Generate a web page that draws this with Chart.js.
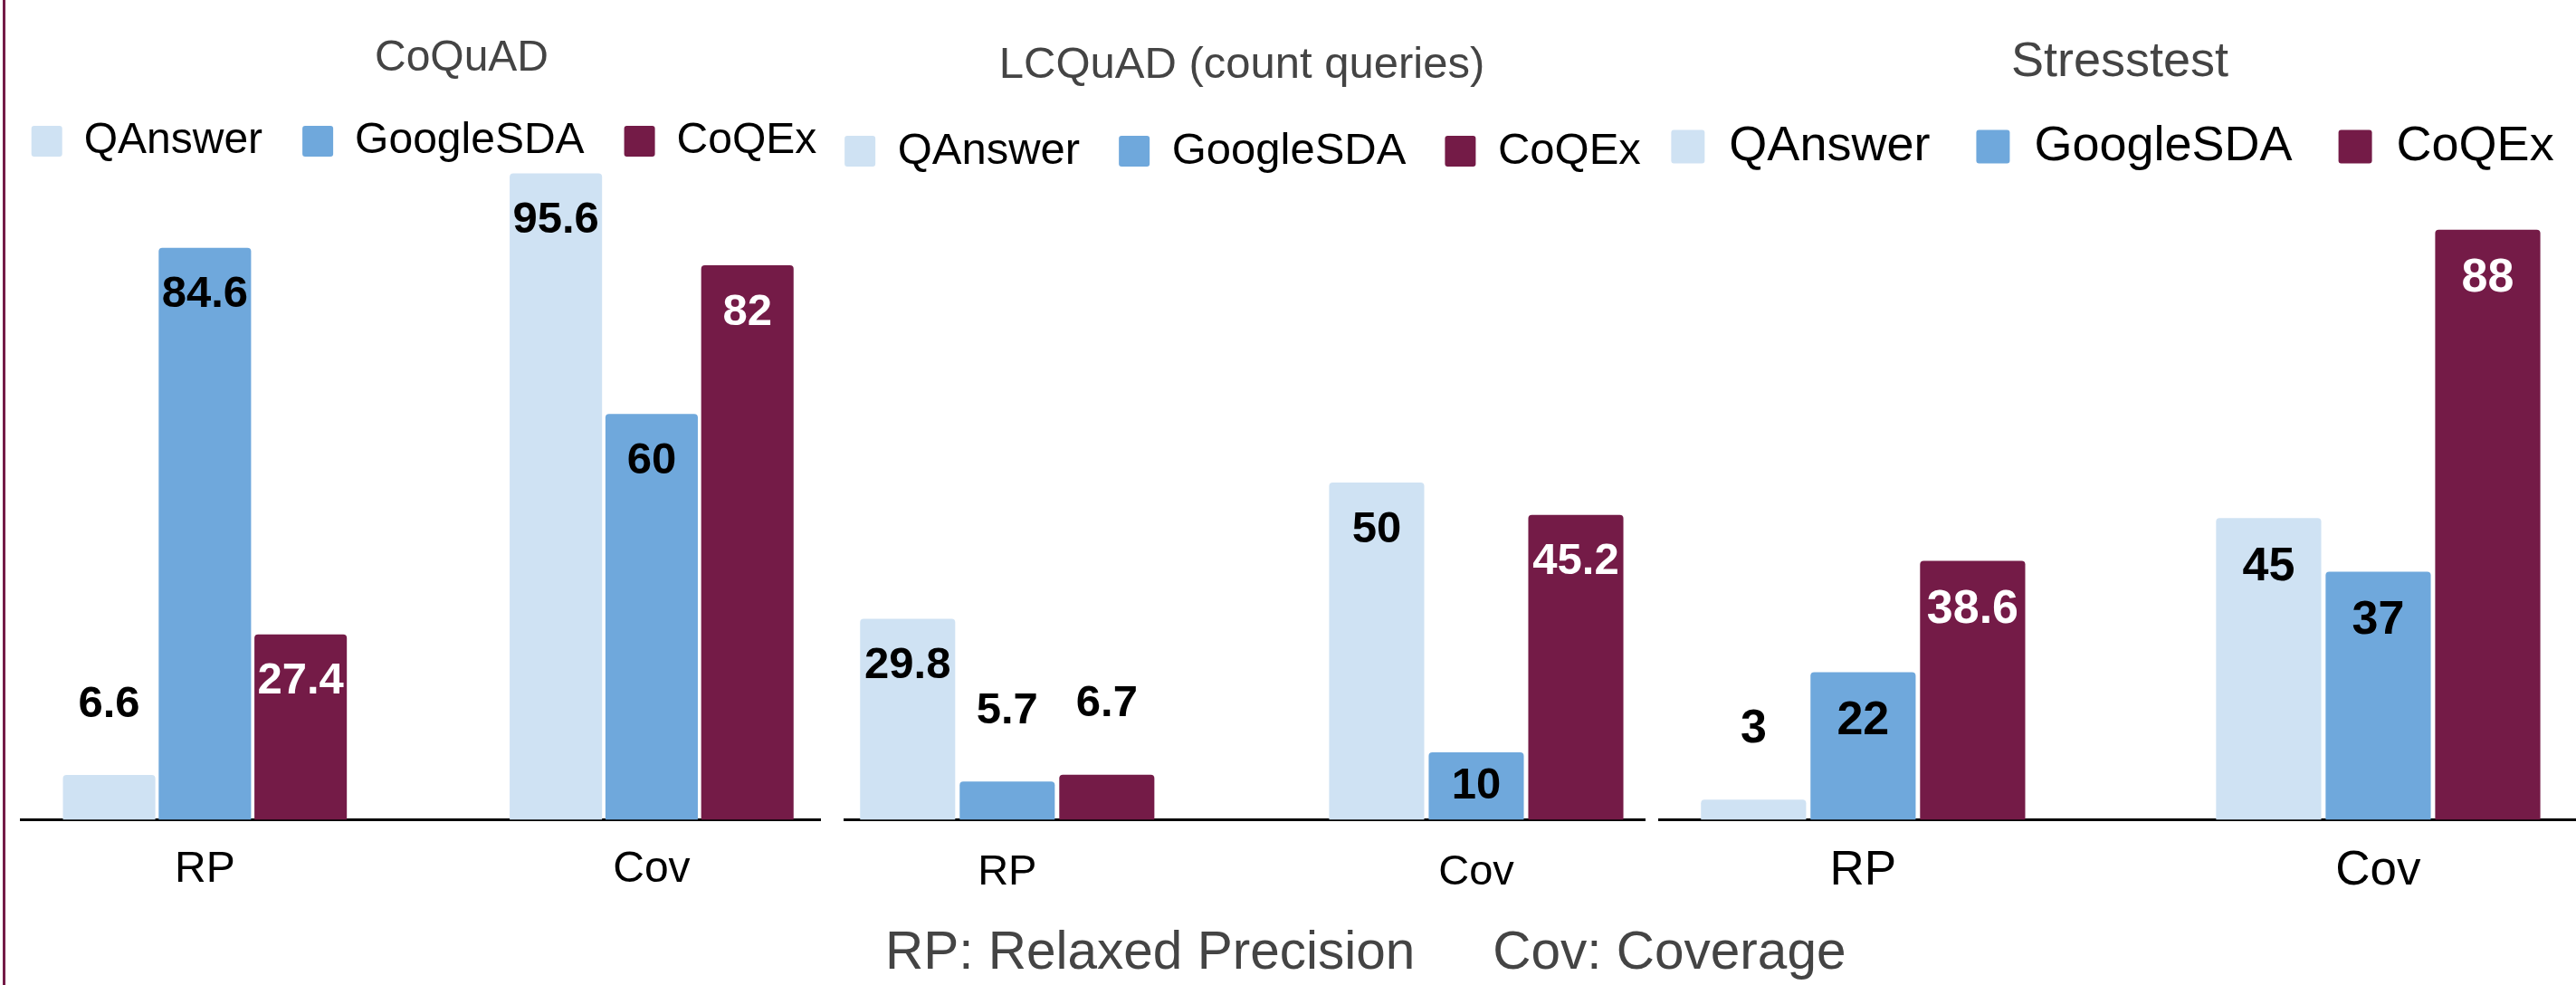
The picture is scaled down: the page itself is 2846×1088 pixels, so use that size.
<!DOCTYPE html>
<html>
<head>
<meta charset="utf-8">
<script src="https://cdn.jsdelivr.net/npm/chart.js@4.4.0/dist/chart.umd.min.js"></script>
<style>
  html, body { margin: 0; padding: 0; background: #fff; overflow: hidden; }
  body { width: 2846px; height: 1088px; position: relative; font-family: "Liberation Sans", Arial, sans-serif; }
  canvas { position: absolute; top: 0; }
  #leftline { position: absolute; left: 3px; top: 0; width: 3px; height: 1088px; background: #741b47; }
  #note { position: absolute; left: 978px; top: 1021px; font-size: 58.5px; line-height: 58px; color: #444; white-space: nowrap; }
</style>
</head>
<body>
<div id="leftline"></div>
<canvas id="c1" width="965" height="1088" style="left:-14px"></canvas>
<canvas id="c2" width="980" height="1088" style="left:883px"></canvas>
<canvas id="c3" width="1090" height="1088" style="left:1789px"></canvas>
<div id="note"><span>RP: Relaxed Precision</span><span style="margin-left:86px">Cov: Coverage</span></div>
<script>
var categories = ["RP", "Cov"];
var seriesNames = ["QAnswer", "GoogleSDA", "CoQEx"];
var seriesColors = ["#cfe2f3", "#6fa8dc", "#741b47"];

// CoQuAD
var coquadQAnswer = [6.6, 95.6];
var coquadGoogleSDA = [84.6, 60];
var coquadCoQEx = [27.4, 82];

// LCQuAD (count queries)
var lcquadQAnswer = [29.8, 50];
var lcquadGoogleSDA = [5.7, 10];
var lcquadCoQEx = [6.7, 45.2];

// Stresstest
var stressQAnswer = [3, 45];
var stressGoogleSDA = [22, 37];
var stressCoQEx = [38.6, 88];

var fontFamily = "'Liberation Sans', Arial, sans-serif";

// bar values, drawn on top / inside / above depending on bar height
var valueLabels = {
  id: "valueLabels",
  afterDatasetsDraw: function (chart, args, opts) {
    var ctx = chart.ctx;
    ctx.save();
    ctx.font = "bold " + opts.size + "px " + fontFamily;
    ctx.textAlign = "center";
    ctx.textBaseline = "middle";
    chart.data.datasets.forEach(function (ds, d) {
      var meta = chart.getDatasetMeta(d);
      meta.data.forEach(function (bar, i) {
        var h = bar.base - bar.y;
        var y, inside = true;
        if (h > 110) {
          y = bar.y + opts.inset;
        } else if (h > 60) {
          y = (bar.y + bar.base) / 2;
        } else {
          y = bar.y - 78;
          inside = false;
        }
        ctx.fillStyle = inside && d === 2 ? "#fff" : "#000";
        ctx.fillText(String(ds.data[i].y), bar.x, y);
      });
    });
    ctx.restore();
  }
};

// panel title, placed freely (the space is kept free by layout padding)
var panelTitle = {
  id: "panelTitle",
  afterDraw: function (chart, args, opts) {
    var ctx = chart.ctx;
    ctx.save();
    ctx.font = opts.size + "px " + fontFamily;
    ctx.fillStyle = "#444";
    ctx.textAlign = "center";
    ctx.textBaseline = "middle";
    ctx.fillText(opts.text, opts.x, opts.y);
    ctx.restore();
  }
};

function makeChart(id, title, values, cfg) {
  var ctx = document.getElementById(id).getContext("2d");
  return new Chart(ctx, {
    type: "bar",
    data: {
      datasets: seriesNames.map(function (name, s) {
        return {
          label: name,
          data: categories.map(function (c, i) { return { x: i, y: values[s][i] }; }),
          backgroundColor: seriesColors[s],
          borderWidth: 0,
          borderRadius: { topLeft: 4, topRight: 4 },
          categoryPercentage: cfg.group,
          barPercentage: cfg.bar
        };
      })
    },
    options: {
      responsive: false,
      animation: false,
      layout: { padding: { top: cfg.padTop, bottom: cfg.padBottom } },
      plugins: {
        title: { display: false },
        legend: {
          display: true,
          position: "top",
          labels: {
            color: "#000",
            font: { family: fontFamily, size: cfg.legendSize },
            boxWidth: cfg.box,
            boxHeight: cfg.box,
            padding: cfg.legendPad,
            useBorderRadius: true,
            borderRadius: 3
          }
        },
        tooltip: { enabled: false },
        valueLabels: { size: cfg.labelSize, inset: cfg.inset },
        panelTitle: { text: title, size: cfg.titleSize, x: cfg.titleX, y: cfg.titleY }
      },
      scales: {
        x: {
          type: "linear",
          min: cfg.xMin,
          max: cfg.xMax,
          offset: false,
          z: 1,
          grid: { display: false, drawTicks: false, offset: false },
          border: { display: true, color: "#000", width: 3 },
          ticks: {
            stepSize: 1,
            includeBounds: false,
            autoSkip: false,
            maxRotation: 0,
            padding: cfg.tickPad,
            color: "#000",
            font: { family: fontFamily, size: cfg.tickSize },
            callback: function (v) { return categories[v] !== undefined ? categories[v] : ""; }
          }
        },
        y: {
          min: 0,
          max: cfg.yMax,
          grid: { display: false },
          border: { display: false },
          ticks: { display: false },
          afterFit: function (s) { s.width = cfg.left; }
        },
        y2: {
          position: "right",
          grid: { display: false },
          border: { display: false },
          ticks: { display: false },
          afterFit: function (s) { s.width = cfg.right; }
        }
      }
    },
    plugins: [valueLabels, panelTitle]
  });
}

makeChart("c1", "CoQuAD", [coquadQAnswer, coquadGoogleSDA, coquadCoQEx], {
  left: 37, right: 45, xMin: -0.412, xMax: 1.377, group: 0.643, bar: 0.965,
  yMax: 95.8, padTop: 88, padBottom: 71, tickPad: 27, tickSize: 48,
  titleSize: 48, titleX: 524, titleY: 64.5,
  legendSize: 48, box: 34, legendPad: 44, labelSize: 49, inset: 52
});

makeChart("c2", "LCQuAD (count queries)", [lcquadQAnswer, lcquadGoogleSDA, lcquadCoQEx], {
  left: 50, right: 46, xMin: -0.347, xMax: 1.359, group: 0.637, bar: 0.955,
  yMax: 94.5, padTop: 99.5, padBottom: 66, tickPad: 30, tickSize: 47,
  titleSize: 49, titleX: 489, titleY: 72,
  legendSize: 49, box: 34, legendPad: 43, labelSize: 49, inset: 52
});

makeChart("c3", "Stresstest", [stressQAnswer, stressGoogleSDA, stressCoQEx], {
  left: 44, right: 33, xMin: -0.396, xMax: 1.384, group: 0.638, bar: 0.96,
  yMax: 95.4, padTop: 84, padBottom: 69, tickPad: 25, tickSize: 53,
  titleSize: 54, titleX: 553, titleY: 69,
  legendSize: 54, box: 37, legendPad: 51, labelSize: 52, inset: 54
});
</script>
</body>
</html>
